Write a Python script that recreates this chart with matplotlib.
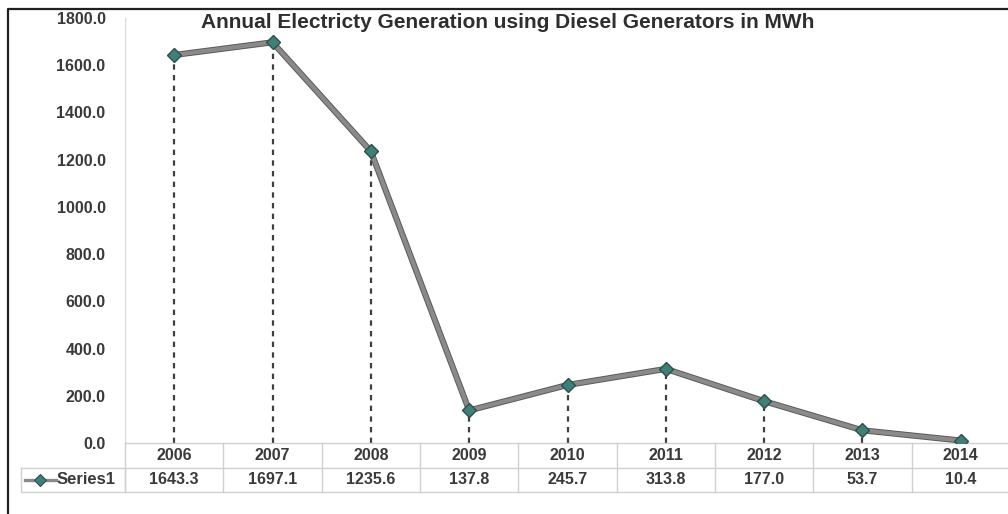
import matplotlib
matplotlib.use("Agg")
import matplotlib.pyplot as plt
import matplotlib.patheffects as pe
from matplotlib.lines import Line2D
from matplotlib.transforms import blended_transform_factory

plt.rcParams['font.family'] = ['Liberation Sans', 'DejaVu Sans']

years = ["2006", "2007", "2008", "2009", "2010", "2011", "2012", "2013", "2014"]
generation_mwh = [1643.3, 1697.1, 1235.6, 137.8, 245.7, 313.8, 177.0, 53.7, 10.4]
y_ticks = [0, 200, 400, 600, 800, 1000, 1200, 1400, 1600, 1800]
series_name = "Series1"
title = "Annual Electricty Generation using Diesel Generators in MWh"

W, H = 1008, 514
fig = plt.figure(figsize=(W / 100, H / 100), dpi=100)
fig.patch.set_facecolor("white")

# plot area in pixel coordinates (left, top, right, bottom)
pl, pt, pr, pb = 125, 18, 1010, 443
ax = fig.add_axes([pl / W, (H - pb) / H, (pr - pl) / W, (pb - pt) / H])
ax.set_facecolor("none")

x = list(range(len(years)))
ax.set_xlim(-0.5, len(years) - 0.5)
ax.set_ylim(0, 1800)

text_c = "#3a3a3a"

# drop lines from each point down to the axis
for xi, v in zip(x, generation_mwh):
    ax.plot([xi, xi], [0, v], color="#404040", lw=1.6, ls=(0, (2.4, 2.4)), zorder=2)

# series line with markers
line_color = "#8a8a8a"
marker_face = "#3f7f77"
ax.plot(x, generation_mwh, color=line_color, lw=3.0, zorder=3,
        path_effects=[pe.Stroke(linewidth=4.4, foreground="#5a5a5a"), pe.Normal()])
ax.plot(x, generation_mwh, ls="none", marker="D", ms=7.5, mfc=marker_face,
        mec="#2f4f4a", mew=1.0, zorder=4)

# axes styling
for s in ax.spines.values():
    s.set_visible(False)
ax.axvline(-0.5, color="#d9d9d9", lw=1.0, zorder=1)
ax.set_xticks([])
ax.set_yticks(y_ticks)
ax.set_yticklabels([f"{t:.1f}" for t in y_ticks])
ax.tick_params(axis="y", length=0, pad=14, labelsize=11.5, labelcolor=text_c)
for lbl in ax.get_yticklabels():
    lbl.set_fontweight("bold")

fig.text(508 / W, 1 - 23 / H, title, ha="center", va="center",
         fontsize=15, fontweight="bold", color="#2e2e2e")

# data table below the plot area
ph = pb - pt
row_h = 24.5 / ph
r0_top, r0_bot = 0.0, -row_h
r1_bot = -2 * row_h
grid_c = "#d0d0d0"
tr = blended_transform_factory(ax.transData, ax.transAxes)

for yy in (r0_top, r0_bot, r1_bot):
    ax.plot([-0.5, len(years) - 0.5], [yy, yy], transform=tr, color=grid_c, lw=1.0, clip_on=False)
for k in range(len(years)):
    ax.plot([k - 0.5, k - 0.5], [r0_top, r1_bot], transform=tr, color=grid_c, lw=1.0, clip_on=False)

for xi, yr, v in zip(x, years, generation_mwh):
    ax.text(xi, (r0_top + r0_bot) / 2, yr, transform=tr, ha="center", va="center",
            fontsize=11.5, fontweight="bold", color=text_c, clip_on=False)
    ax.text(xi, (r0_bot + r1_bot) / 2, f"{v:.1f}", transform=tr, ha="center", va="center",
            fontsize=11.5, fontweight="bold", color=text_c, clip_on=False)

# legend key cell to the left of the table
cell_l, cell_r = 21, pl
ct, cb = pb + 24.5, pb + 49
fig.add_artist(Line2D([cell_l / W, cell_r / W, cell_r / W, cell_l / W, cell_l / W],
                      [1 - ct / H, 1 - ct / H, 1 - cb / H, 1 - cb / H, 1 - ct / H],
                      color=grid_c, lw=1.0))
cy = 1 - (ct + cb) / 2 / H
fig.add_artist(Line2D([25 / W, 56 / W], [cy, cy], color=line_color, lw=2.4))
fig.add_artist(Line2D([40 / W], [cy], ls="none", marker="D", ms=6, mfc=marker_face,
                      mec="#2f4f4a", mew=0.8))
fig.text(57 / W, cy, series_name, ha="left", va="center", fontsize=12,
         fontweight="bold", color=text_c)

# outer frame
fig.add_artist(Line2D([7.5 / W, 7.5 / W, 1.0], [0.0, 1 - 8.5 / H, 1 - 8.5 / H],
                      color="#202020", lw=1.6))

fig.savefig("out.png", dpi=100, facecolor="white")
